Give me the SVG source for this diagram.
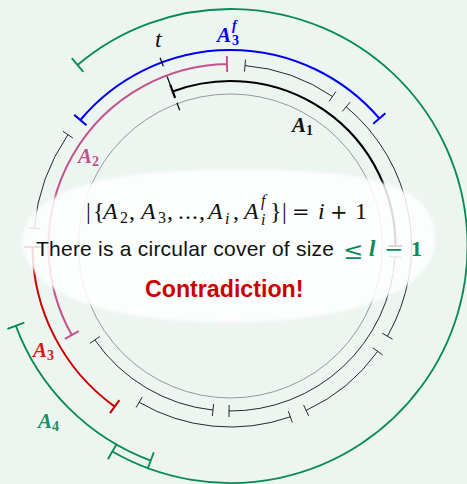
<svg xmlns="http://www.w3.org/2000/svg" width="467" height="484" viewBox="0 0 467 484">
<defs>
<style>
.ring0{fill:none;stroke:#8c8c8c;stroke-width:0.9}
.thin{fill:none;stroke:#111;stroke-width:0.9}
.a1{fill:none;stroke:#000;stroke-width:2.2}
.pink{fill:none;stroke:#c4528c;stroke-width:2}
.blue{fill:none;stroke:#0000f0;stroke-width:2}
.red{fill:none;stroke:#cc0000;stroke-width:2}
.green{fill:none;stroke:#078a57;stroke-width:1.8}
.dash{fill:none;stroke:#111;stroke-width:1.3}
.lab{font-family:"Liberation Serif",serif;font-weight:bold;font-style:italic;font-size:21px}
.m{font-family:"Liberation Serif",serif;font-size:24px;fill:#111}
.mi{font-style:italic}
.ms{font-size:16px}
.sym{font-family:"DejaVu Serif",serif;font-size:21px}
</style>
<filter id="soft" x="-5%" y="-10%" width="110%" height="120%"><feGaussianBlur stdDeviation="1.5"/></filter>
</defs>
<rect x="0" y="0" width="467" height="484" fill="#edf5f1"/>

<g id="rings">
<circle id="base-circle" class="ring0" cx="230.5" cy="246" r="152"/>
<g id="A1">
<path class="a1" d="M172.72,91.45 A165,165 0 0 1 395.5,246"/>
<path class="a1" d="M175.17,98.00 L170.27,84.89 M388.5,246 L402.5,246"/>
</g>
<g id="inner-intervals">
<path class="thin" d="M395.14,256.93 A165,165 0 0 1 229.06,410.99 M389.15,256.54 L401.12,257.33 M229.11,404.99 L229.01,416.99"/>
<path class="thin" d="M212.97,410.07 A165,165 0 0 1 94.85,339.93 M213.60,404.10 L212.33,416.03 M99.78,336.52 L89.91,343.35"/>
</g>
<g id="middle-intervals">
<path class="thin" d="M245.02,65.58 A181,181 0 0 1 332.50,96.48 M244.54,71.56 L245.50,59.60 M329.12,101.43 L335.88,91.52"/>
<path class="thin" d="M346.19,106.80 A181,181 0 0 1 387.41,336.23 M342.35,111.41 L350.02,102.18 M382.21,333.24 L392.61,339.22"/>
<path class="thin" d="M377.67,351.36 A181,181 0 0 1 306.13,410.44 M372.79,347.87 L382.55,354.86 M303.62,404.99 L308.64,415.89"/>
<path class="thin" d="M290.32,416.83 A181,181 0 0 1 139.18,402.28 M288.34,411.17 L292.31,422.49 M142.21,397.10 L136.15,407.46"/>
</g>
<g id="A2">
<path class="pink" d="M71.78,335.07 A182,182 0 0 1 227.01,64.03 M78.76,331.15 L64.81,338.98 M227.16,72.03 L226.85,56.03"/>
</g>
<g id="A3f">
<path class="blue" d="M80.36,120.01 A196,196 0 0 1 379.32,118.45 M86.48,125.16 L74.23,114.87 M373.24,123.66 L385.39,113.24"/>
</g>
<g id="outer-interval">
<path class="thin" d="M34.31,228.15 A197,197 0 0 1 67.95,134.70 M40.29,228.69 L28.34,227.60 M72.90,138.09 L63.00,131.31"/>
</g>
<g id="A3">
<path class="red" d="M114.68,406.59 A198,198 0 0 1 32.50,247.04 M119.36,400.10 L110.00,413.08 M40.5,247.0 L24.5,247.08"/>
</g>
<g id="A4">
<path class="green" d="M77.53,64.98 A237,237 0 1 1 112.36,451.46 M83.33,71.85 L71.72,58.11 M116.84,443.65 L107.87,459.26"/>
<path class="green" d="M150.68,460.64 A229,229 0 0 1 15.86,325.82 M153.81,452.20 L147.54,469.07 M24.30,322.69 L7.43,328.96"/>
</g>
<g id="t-mark">
<path class="dash" d="M160.11,57.72 L163.26,66.15 M167.11,76.46 L170.97,86.76 M176.92,102.68 L179.72,110.18"/>
</g>
</g>

<path id="overlay" d="M22,244 C24,185 120,170 228,170 C390,168 436,190 435,242 C430,300 330,322 228,322 C120,322 30,300 22,244 Z" fill="#ffffff" fill-opacity="0.85" filter="url(#soft)"/>

<g id="labels">
<text class="m mi" x="155" y="47" font-size="17">t</text>
<text class="lab" fill="#0000f0"><tspan x="217" y="42">A</tspan><tspan x="232" y="30" font-size="14">f</tspan><tspan x="232" y="45" font-size="14" font-style="normal">3</tspan></text>
<text class="lab" fill="#111"><tspan x="292" y="132">A</tspan><tspan x="306" y="135" font-size="14" font-style="normal">1</tspan></text>
<text class="lab" fill="#c4528c"><tspan x="78" y="163">A</tspan><tspan x="92" y="166" font-size="14" font-style="normal">2</tspan></text>
<text class="lab" fill="#d21c1c"><tspan x="33" y="357">A</tspan><tspan x="47" y="360" font-size="14" font-style="normal">3</tspan></text>
<text class="lab" fill="#159060"><tspan x="38" y="428">A</tspan><tspan x="52" y="431" font-size="14" font-style="normal">4</tspan></text>
</g>

<g id="caption">
<text class="m"><tspan x="86" y="219">|</tspan><tspan x="93" y="219">{</tspan><tspan class="mi" x="103" y="219">A</tspan><tspan class="ms" x="120" y="223">2</tspan><tspan x="129" y="219">,</tspan><tspan class="mi" x="141" y="219">A</tspan><tspan class="ms" x="158" y="223">3</tspan><tspan x="167" y="219">,</tspan><tspan x="178" y="219" letter-spacing="1">...</tspan><tspan x="199" y="219">,</tspan><tspan class="mi" x="208" y="219">A</tspan><tspan class="ms mi" x="225" y="224">i</tspan><tspan x="233" y="219">,</tspan><tspan class="mi" x="244" y="219">A</tspan><tspan class="ms mi" x="261" y="206">f</tspan><tspan class="ms mi" x="261" y="225">i</tspan><tspan x="270" y="219">}</tspan><tspan x="282" y="219">|</tspan><tspan class="sym" x="292" y="219">=</tspan><tspan class="mi" x="318" y="219">i</tspan><tspan class="sym" x="330" y="219">+</tspan><tspan x="355" y="219">1</tspan></text>
<text x="36" y="256" font-family="Liberation Sans, Arial, sans-serif" font-size="21" fill="#111" textLength="298" lengthAdjust="spacing">There is a circular cover of size</text>
<text fill="#078a57"><tspan x="343" y="259" font-family="DejaVu Serif, serif" font-size="24">≤</tspan><tspan x="369" y="256" font-family="Liberation Serif, serif" font-size="23" font-style="italic" font-weight="bold">l</tspan><tspan x="384" y="257" font-family="DejaVu Serif, serif" font-size="23">−</tspan><tspan x="411" y="256" font-family="Liberation Serif, serif" font-size="22" font-weight="bold">1</tspan></text>
<text x="145" y="297" font-family="Liberation Sans, Arial, sans-serif" font-size="23.2" font-weight="bold" fill="#cc0000">Contradiction!</text>
</g>
</svg>
